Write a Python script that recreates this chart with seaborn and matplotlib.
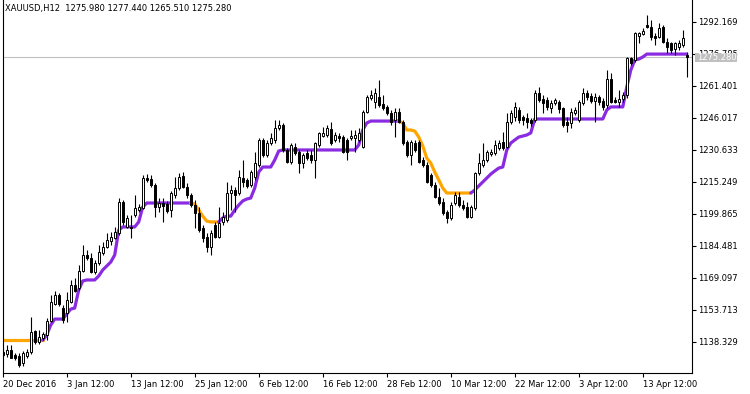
import numpy as np
import pandas as pd
import matplotlib
matplotlib.use("Agg")
import matplotlib.pyplot as plt
from matplotlib.patches import Rectangle
import seaborn as sns

sns.set_style("white")
plt.rcParams["font.family"] = ["DejaVu Sans"]

# ---------------- data (XAUUSD, H12) ----------------
opens = [1133.4, 1132.4, 1134.3, 1131.9, 1131.4, 1128.1, 1131.4, 1133.4, 1143.5, 1138.2,
         1140.1, 1141.5, 1148.3, 1156.4, 1160.8, 1154.5, 1152.1, 1157.4, 1165.6, 1164.1,
         1172.3, 1180.0, 1178.6, 1171.8, 1176.1, 1181.0, 1183.8, 1186.7, 1188.2, 1190.6,
         1205.5, 1193.5, 1193.5, 1199.2, 1201.6, 1202.6, 1217.0, 1216.5, 1213.7, 1203.1,
         1205.0, 1204.5, 1201.6, 1208.8, 1212.2, 1218.0, 1212.7, 1208.8, 1204.0, 1200.2,
         1193.0, 1188.6, 1183.8, 1194.4, 1188.6, 1195.9, 1196.8, 1209.8, 1211.2, 1209.8,
         1217.0, 1216.1, 1213.7, 1217.5, 1223.3, 1235.3, 1228.1, 1233.8, 1235.3, 1241.1,
         1242.5, 1230.5, 1224.7, 1231.9, 1229.5, 1224.2, 1229.0, 1228.1, 1225.7, 1232.9,
         1237.2, 1237.7, 1240.6, 1235.3, 1237.2, 1236.7, 1235.3, 1236.3, 1236.3, 1235.3,
         1231.9, 1248.8, 1255.5, 1253.6, 1256.0, 1252.6, 1251.2, 1248.3, 1244.9, 1248.8,
         1243.9, 1234.3, 1228.1, 1233.8, 1234.3, 1225.7, 1223.3, 1218.5, 1213.7, 1207.9,
         1205.5, 1200.7, 1197.8, 1205.0, 1207.9, 1204.0, 1203.1, 1198.3, 1202.6, 1219.4,
         1223.3, 1225.7, 1228.5, 1229.0, 1231.4, 1234.3, 1231.9, 1243.9, 1246.4, 1249.7,
         1246.4, 1245.9, 1244.9, 1244.9, 1257.9, 1255.0, 1254.5, 1250.7, 1253.1, 1253.6,
         1250.7, 1243.9, 1243.5, 1248.3, 1244.9, 1253.1, 1257.9, 1256.4, 1254.0, 1256.0,
         1254.0, 1252.1, 1264.6, 1254.5, 1253.6, 1255.0, 1256.9, 1274.7, 1273.8, 1285.3,
         1286.3, 1290.6, 1289.6, 1285.3, 1284.8, 1289.6, 1282.4, 1281.9, 1279.0, 1280.0,
         1281.0, 1275.98]
highs = [1135.3, 1136.7, 1136.7, 1132.9, 1132.9, 1133.8, 1134.8, 1150.2, 1143.9, 1143.9,
         1143.0, 1149.7, 1160.8, 1162.7, 1161.7, 1156.0, 1162.2, 1168.0, 1169.0, 1175.2,
         1184.8, 1182.4, 1181.0, 1177.6, 1184.8, 1186.2, 1190.6, 1191.1, 1193.5, 1207.4,
         1206.4, 1199.2, 1199.2, 1208.8, 1204.5, 1218.5, 1218.9, 1218.5, 1214.6, 1207.4,
         1207.4, 1206.0, 1210.8, 1217.5, 1219.4, 1219.9, 1214.6, 1209.8, 1206.4, 1203.1,
         1194.4, 1190.6, 1192.0, 1195.9, 1203.1, 1200.7, 1215.1, 1213.6, 1212.7, 1220.9,
         1225.7, 1217.0, 1220.9, 1229.5, 1236.3, 1236.3, 1235.3, 1238.6, 1244.9, 1244.9,
         1243.5, 1231.4, 1233.8, 1233.8, 1230.5, 1229.0, 1230.5, 1230.5, 1234.3, 1239.1,
         1241.5, 1242.5, 1243.9, 1239.1, 1238.6, 1237.7, 1236.3, 1240.1, 1240.1, 1241.1,
         1249.7, 1256.9, 1259.3, 1260.3, 1264.1, 1256.9, 1252.1, 1249.7, 1250.7, 1250.7,
         1244.9, 1235.3, 1235.3, 1235.3, 1235.3, 1227.1, 1224.7, 1219.4, 1215.1, 1212.2,
         1207.4, 1201.6, 1205.5, 1210.3, 1210.3, 1206.4, 1205.5, 1204.0, 1219.9, 1229.0,
         1233.8, 1230.5, 1231.0, 1235.3, 1235.3, 1239.1, 1248.3, 1249.7, 1253.6, 1251.2,
         1247.3, 1248.3, 1245.9, 1259.3, 1260.8, 1256.9, 1256.0, 1254.5, 1255.5, 1254.5,
         1251.2, 1246.4, 1250.7, 1251.2, 1254.5, 1260.3, 1259.3, 1257.9, 1257.9, 1256.9,
         1255.5, 1268.9, 1267.5, 1256.0, 1259.3, 1258.4, 1275.2, 1275.2, 1287.2, 1287.2,
         1289.1, 1295.4, 1293.0, 1286.7, 1291.5, 1290.6, 1284.3, 1282.4, 1282.4, 1283.4,
         1288.2, 1277.44]
lows = [1130.9, 1130.9, 1130.5, 1129.5, 1126.1, 1126.6, 1130.5, 1132.4, 1137.2, 1137.2,
        1139.1, 1139.1, 1147.8, 1156.0, 1155.5, 1147.3, 1147.8, 1156.9, 1162.2, 1163.2,
        1171.8, 1177.6, 1171.4, 1170.9, 1175.2, 1180.0, 1183.4, 1184.8, 1187.7, 1189.6,
        1194.4, 1193.0, 1188.2, 1198.3, 1200.7, 1202.1, 1215.1, 1212.7, 1198.3, 1200.7,
        1195.9, 1200.2, 1198.3, 1207.4, 1211.2, 1212.2, 1207.4, 1203.1, 1193.0, 1191.1,
        1186.2, 1181.4, 1180.0, 1188.2, 1188.2, 1194.4, 1195.9, 1201.6, 1200.7, 1208.8,
        1212.7, 1212.2, 1212.7, 1216.1, 1222.3, 1227.1, 1227.1, 1232.9, 1233.8, 1240.1,
        1229.5, 1224.2, 1223.7, 1228.1, 1219.4, 1221.8, 1225.7, 1224.2, 1217.0, 1231.9,
        1236.7, 1236.7, 1232.9, 1234.3, 1234.3, 1229.0, 1225.7, 1235.3, 1229.5, 1234.3,
        1231.4, 1248.3, 1254.5, 1250.7, 1251.2, 1249.7, 1247.3, 1242.5, 1236.7, 1243.5,
        1232.9, 1227.1, 1223.3, 1229.5, 1224.2, 1222.3, 1214.6, 1212.7, 1207.4, 1204.0,
        1199.2, 1195.4, 1196.8, 1204.0, 1203.1, 1201.6, 1197.8, 1197.8, 1201.6, 1218.5,
        1222.3, 1224.7, 1227.6, 1228.1, 1230.5, 1230.5, 1231.4, 1243.0, 1244.4, 1243.5,
        1242.5, 1241.1, 1242.0, 1243.9, 1253.6, 1248.3, 1249.7, 1248.3, 1252.1, 1248.3,
        1241.5, 1239.1, 1241.1, 1247.3, 1243.9, 1252.1, 1254.5, 1253.1, 1243.9, 1252.1,
        1249.7, 1250.7, 1253.1, 1253.1, 1251.2, 1253.6, 1255.5, 1271.3, 1272.8, 1281.9,
        1285.8, 1289.1, 1283.4, 1281.0, 1284.3, 1281.9, 1277.1, 1277.1, 1276.2, 1278.6,
        1280.0, 1265.51]
closes = [1131.9, 1134.3, 1130.6, 1130.5, 1127.1, 1132.9, 1133.4, 1143.0, 1138.2, 1140.6,
          1142.0, 1148.3, 1157.4, 1160.8, 1156.4, 1148.7, 1158.4, 1165.6, 1162.7, 1172.3,
          1180.0, 1178.6, 1171.8, 1176.1, 1181.4, 1183.8, 1187.2, 1188.6, 1191.1, 1205.5,
          1195.9, 1197.8, 1193.0, 1202.6, 1203.1, 1217.0, 1216.1, 1213.7, 1203.1, 1205.0,
          1203.6, 1201.1, 1209.8, 1212.2, 1217.5, 1212.7, 1208.8, 1204.0, 1200.2, 1192.0,
          1188.2, 1183.8, 1190.6, 1188.6, 1195.4, 1198.3, 1209.8, 1211.2, 1208.8, 1217.5,
          1215.1, 1213.2, 1219.9, 1224.2, 1235.3, 1228.1, 1233.8, 1236.3, 1241.1, 1242.5,
          1230.5, 1224.7, 1232.9, 1229.0, 1224.2, 1228.1, 1226.6, 1225.7, 1233.8, 1238.7,
          1238.7, 1241.1, 1233.8, 1237.7, 1236.3, 1229.5, 1229.5, 1237.2, 1237.7, 1238.7,
          1248.8, 1256.0, 1256.9, 1257.9, 1252.1, 1250.7, 1248.3, 1243.9, 1248.8, 1243.9,
          1233.8, 1228.1, 1234.3, 1230.5, 1224.7, 1223.3, 1215.1, 1213.7, 1207.9, 1205.0,
          1200.2, 1197.8, 1204.0, 1208.8, 1204.0, 1202.6, 1198.3, 1203.1, 1219.4, 1224.2,
          1225.7, 1229.5, 1229.5, 1232.9, 1233.8, 1231.4, 1243.9, 1248.3, 1251.2, 1244.9,
          1244.9, 1243.9, 1243.5, 1257.9, 1254.5, 1253.1, 1251.2, 1253.1, 1254.5, 1250.2,
          1242.5, 1242.5, 1248.8, 1249.7, 1253.6, 1257.9, 1256.0, 1254.0, 1256.0, 1253.6,
          1251.2, 1264.6, 1253.6, 1253.6, 1255.0, 1256.9, 1274.7, 1272.3, 1286.7, 1286.7,
          1287.7, 1289.6, 1284.8, 1284.3, 1289.1, 1282.4, 1280.0, 1278.6, 1281.9, 1281.9,
          1284.3, 1275.28]
trend_line = [1139.1, 1139.1, 1139.1, 1139.1, 1139.1, 1139.1, 1139.1, 1139.1, 1139.1, 1139.1,
              1139.1, 1141.5, 1146.3, 1149.2, 1149.2, 1149.2, 1151.6, 1154.0, 1154.5, 1163.2,
              1167.5, 1168.0, 1168.0, 1168.0, 1169.9, 1172.8, 1174.7, 1176.6, 1180.0, 1192.0,
              1193.5, 1193.5, 1193.5, 1193.5, 1195.9, 1203.1, 1205.0, 1205.0, 1205.0, 1205.0,
              1205.0, 1205.0, 1205.0, 1205.0, 1205.0, 1205.0, 1205.0, 1205.0, 1204.5, 1201.6,
              1198.7, 1196.3, 1195.9, 1195.9, 1195.9, 1197.8, 1198.7, 1198.7, 1201.6, 1204.0,
              1206.0, 1206.9, 1207.4, 1212.2, 1219.9, 1222.3, 1222.3, 1222.3, 1225.7, 1230.0,
              1230.5, 1230.5, 1230.5, 1230.5, 1230.5, 1230.5, 1230.5, 1230.5, 1230.5, 1230.5,
              1230.5, 1230.5, 1230.5, 1230.5, 1230.5, 1230.5, 1230.5, 1230.5, 1230.5, 1232.9,
              1240.1, 1243.5, 1244.4, 1244.4, 1244.4, 1244.4, 1244.4, 1244.4, 1244.4, 1244.4,
              1243.5, 1240.1, 1240.1, 1239.6, 1236.7, 1232.4, 1226.6, 1224.2, 1219.9, 1216.1,
              1212.2, 1209.8, 1209.8, 1209.8, 1209.8, 1209.8, 1209.8, 1209.8, 1211.2, 1213.2,
              1215.1, 1217.0, 1218.9, 1220.4, 1221.8, 1222.3, 1230.5, 1233.8, 1235.3, 1236.7,
              1237.2, 1237.7, 1238.7, 1245.4, 1245.4, 1245.4, 1245.4, 1245.4, 1245.4, 1245.4,
              1245.4, 1245.4, 1245.4, 1245.4, 1245.4, 1245.4, 1245.4, 1245.4, 1245.4, 1245.4,
              1245.4, 1249.7, 1251.2, 1251.2, 1251.2, 1251.2, 1260.8, 1268.9, 1273.8, 1274.2,
              1275.2, 1276.6, 1276.6, 1276.6, 1276.6, 1276.6, 1276.6, 1276.6, 1276.6, 1276.6,
              1276.6, 1276.6]
date_labels = ["20 Dec 2016", "3 Jan 12:00", "13 Jan 12:00", "25 Jan 12:00", "6 Feb 12:00",
               "16 Feb 12:00", "28 Feb 12:00", "10 Mar 12:00", "22 Mar 12:00", "3 Apr 12:00",
               "13 Apr 12:00"]
date_positions = [0, 16, 32, 48, 64, 80, 96, 112, 128, 144, 160]
price_ticks = [1138.329, 1153.713, 1169.097, 1184.481, 1199.865, 1215.249, 1230.633,
               1246.017, 1261.401, 1276.785, 1292.169]
header = "XAUUSD,H12  1275.980 1277.440 1265.510 1275.280"
last_price = 1275.28

UP_COLOR = "#8a2be2"
DOWN_COLOR = "#ffa500"

o = np.array(opens); h = np.array(highs); l = np.array(lows); c = np.array(closes)
ind = np.array(trend_line)
n = len(c)
xs = np.arange(n)

W, H = 750, 394
fig = plt.figure(figsize=(W / 100, H / 100), dpi=100)
ax = fig.add_axes([2.5 / W, (H - 373) / H, (692 - 2.5) / W, 373 / H])
ax.set_facecolor("white")

# price line
ax.axhline(last_price, color="#c0c0c0", lw=0.8, zorder=0.5)

# indicator line, coloured by direction
state = "down"
states = [state]
for i in range(1, n):
    if ind[i] > ind[i - 1]:
        state = "up"
    elif ind[i] < ind[i - 1]:
        state = "down"
    states.append(state)
runs = []
start = 1
for i in range(2, n + 1):
    if i == n or states[i] != states[start]:
        runs.append((start, i - 1, states[start]))
        start = i
for s, e, st in runs:
    seg = pd.DataFrame({"x": xs[s - 1:e + 1], "y": ind[s - 1:e + 1]})
    sns.lineplot(data=seg, x="x", y="y", ax=ax, color=UP_COLOR if st == "up" else DOWN_COLOR,
                 lw=2.3, estimator=None, sort=False, zorder=2, solid_capstyle="round")

# candles
ax.vlines(xs, l, h, color="black", lw=0.8, zorder=3)
up = c >= o
ax.bar(xs, np.abs(c - o), bottom=np.minimum(o, c), width=0.5,
       color=np.where(up, "white", "black"), edgecolor="black", linewidth=0.7, zorder=4)

ax.set_xlim(-0.05, 172.3)
ax.set_ylim(1123.27, 1302.6)

for sp in ["left", "bottom", "right"]:
    ax.spines[sp].set_visible(True)
    ax.spines[sp].set_color("black")
    ax.spines[sp].set_linewidth(0.8)
ax.spines["top"].set_visible(False)

ax.yaxis.tick_right()
ax.set_yticks(price_ticks)
ax.set_yticklabels([f"{v:.3f}" for v in price_ticks])
ax.tick_params(axis="y", direction="out", length=3, width=0.8, pad=1.5, labelsize=6,
               colors="black", right=True, left=False)
ax.set_xticks(date_positions)
ax.set_xticklabels(date_labels, ha="left")
ax.tick_params(axis="x", direction="out", length=3, width=0.8, pad=2, labelsize=6,
               colors="black", bottom=True)
ax.set_xlabel("")
ax.set_ylabel("")
ax.grid(False)

# header text
fig.text(5 / W, 1 - 8 / H, header, fontsize=6, va="center", ha="left", color="black")

# current price tag
fig.patches.append(Rectangle((695 / W, (H - 62) / H), 42 / W, 9 / H, transform=fig.transFigure,
                             facecolor="#c0c0c0", edgecolor="none", zorder=10))
fig.text(697 / W, (H - 57.5) / H, f"{last_price:.3f}", fontsize=6, color="white",
         va="center", ha="left", zorder=11)

fig.savefig("out.png", dpi=100)
